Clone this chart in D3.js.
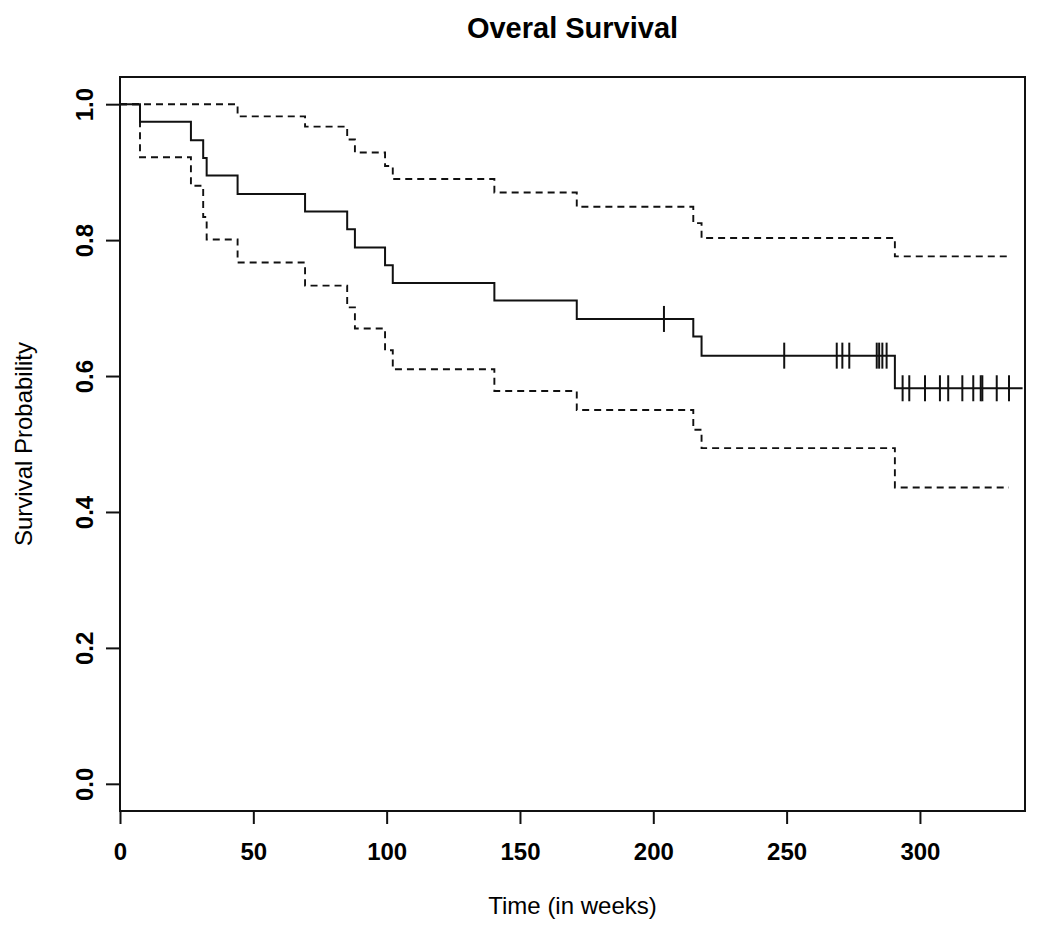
<!DOCTYPE html>
<html>
<head>
<meta charset="utf-8">
<script src="https://cdn.jsdelivr.net/npm/d3@7"></script>
<style>
  html, body { margin: 0; padding: 0; background: #fff; }
  svg { display: block; }
  text { font-family: "Liberation Sans", Arial, sans-serif; fill: #000; }
</style>
</head>
<body>
<svg id="chart" width="1050" height="936"></svg>
<script>
// ---- Data ----
const titleText = "Overal Survival";
const xLabel = "Time (in weeks)";
const yLabel = "Survival Probability";
const xTicks = [0, 50, 100, 150, 200, 250, 300];
const yTicks = [0.0, 0.2, 0.4, 0.6, 0.8, 1.0];

const survTimes  = [0, 7.5, 26.6, 31.2, 32.5, 44.1, 69.4, 85.2, 88.1, 99.4, 102.3, 140.4, 171.3, 215.0, 218.1, 290.6];
const survValues = [1.0, 0.974, 0.947, 0.921, 0.895, 0.868, 0.842, 0.816, 0.789, 0.763, 0.737, 0.711, 0.684, 0.658, 0.630, 0.582];
const survEnd = 338.5;

const upperTimes  = [0, 44.1, 69.4, 85.2, 88.1, 99.4, 102.3, 140.4, 171.3, 215.0, 218.1, 290.6];
const upperValues = [1.0, 0.982, 0.967, 0.948, 0.929, 0.909, 0.890, 0.870, 0.849, 0.825, 0.803, 0.776];

const lowerTimes  = [0, 7.5, 26.6, 31.2, 32.5, 44.1, 69.4, 85.2, 88.1, 99.4, 102.3, 140.4, 171.3, 215.0, 218.1, 290.6];
const lowerValues = [1.0, 0.922, 0.880, 0.834, 0.801, 0.767, 0.733, 0.701, 0.670, 0.638, 0.610, 0.578, 0.550, 0.521, 0.494, 0.436];
const ciEnd = 333.4;

const censorTimes = [204.0, 249.1, 268.8, 270.9, 273.5, 283.8, 284.7, 285.9, 287.5,
                     293.5, 296.0, 301.9, 307.5, 310.6, 315.9, 320.0, 322.8, 323.4, 328.8, 333.4];

// ---- Layout ----
const svg = d3.select("#chart");
const plot = { left: 120, right: 1025, top: 77, bottom: 811 };
const x = d3.scaleLinear().domain([0, 339.4]).range([plot.left, plot.right]);
const y = d3.scaleLinear().domain([-0.04, 1.04]).range([plot.bottom, plot.top]);
const ink = "#111";

svg.append("rect").attr("width", 1050).attr("height", 936).attr("fill", "#fff");

svg.append("defs").append("clipPath").attr("id", "clip")
  .append("rect").attr("x", plot.left).attr("y", plot.top)
  .attr("width", plot.right - plot.left).attr("height", plot.bottom - plot.top);

function stepPoints(times, values, end) {
  const pts = times.map((t, i) => [t, values[i]]);
  pts.push([end, values[values.length - 1]]);
  return pts;
}
const line = d3.line().x(d => x(d[0])).y(d => y(d[1])).curve(d3.curveStepAfter);

const g = svg.append("g").attr("clip-path", "url(#clip)");

// Confidence bands (dashed)
[[upperTimes, upperValues], [lowerTimes, lowerValues]].forEach(([t, v]) => {
  g.append("path")
    .attr("d", line(stepPoints(t, v, ciEnd)))
    .attr("fill", "none").attr("stroke", ink).attr("stroke-width", 1.9)
    .attr("stroke-dasharray", "7,5");
});

// Survival curve
g.append("path")
  .attr("d", line(stepPoints(survTimes, survValues, survEnd)))
  .attr("fill", "none").attr("stroke", ink).attr("stroke-width", 2);

// Censor marks
function survAt(t) {
  let v = survValues[0];
  for (let i = 0; i < survTimes.length; i++) if (survTimes[i] <= t) v = survValues[i];
  return v;
}
g.selectAll("line.censor").data(censorTimes).enter().append("line")
  .attr("class", "censor")
  .attr("x1", d => x(d)).attr("x2", d => x(d))
  .attr("y1", d => y(survAt(d)) - 13).attr("y2", d => y(survAt(d)) + 13)
  .attr("stroke", ink).attr("stroke-width", 2);

// Box
svg.append("rect")
  .attr("x", plot.left).attr("y", plot.top)
  .attr("width", plot.right - plot.left).attr("height", plot.bottom - plot.top)
  .attr("fill", "none").attr("stroke", ink).attr("stroke-width", 2);

// X axis
const xAxis = d3.axisBottom(x).tickValues(xTicks).tickSize(13).tickPadding(0).tickFormat(d3.format("d"));
const gx = svg.append("g").attr("transform", `translate(0,${plot.bottom})`).call(xAxis);
gx.select(".domain").remove();
gx.selectAll(".tick line").attr("stroke", ink).attr("stroke-width", 2);
gx.selectAll(".tick text")
  .attr("y", 49).attr("dy", null)
  .style("font-family", "'Liberation Sans', Arial, sans-serif")
  .style("font-size", "24px").style("font-weight", "bold").attr("fill", "#000");

// Y axis
const yAxis = d3.axisLeft(y).tickValues(yTicks).tickSize(14).tickPadding(0).tickFormat(d3.format(".1f"));
const gy = svg.append("g").attr("transform", `translate(${plot.left},0)`).call(yAxis);
gy.select(".domain").remove();
gy.selectAll(".tick line").attr("stroke", ink).attr("stroke-width", 2);
gy.selectAll(".tick text")
  .attr("x", null).attr("dy", null)
  .attr("text-anchor", "middle")
  .attr("transform", "translate(-27,0) rotate(-90)")
  .style("font-family", "'Liberation Sans', Arial, sans-serif")
  .style("font-size", "24px").style("font-weight", "bold").attr("fill", "#000");

// Titles
const cx = (plot.left + plot.right) / 2;
svg.append("text").attr("x", cx).attr("y", 38).attr("text-anchor", "middle")
  .style("font-size", "29px").style("font-weight", "bold").text(titleText);
svg.append("text").attr("x", cx).attr("y", 914).attr("text-anchor", "middle")
  .style("font-size", "24px").text(xLabel);
svg.append("text").attr("transform", `translate(32,${(plot.top + plot.bottom) / 2}) rotate(-90)`)
  .attr("text-anchor", "middle")
  .style("font-size", "24px").text(yLabel);
</script>
</body>
</html>
